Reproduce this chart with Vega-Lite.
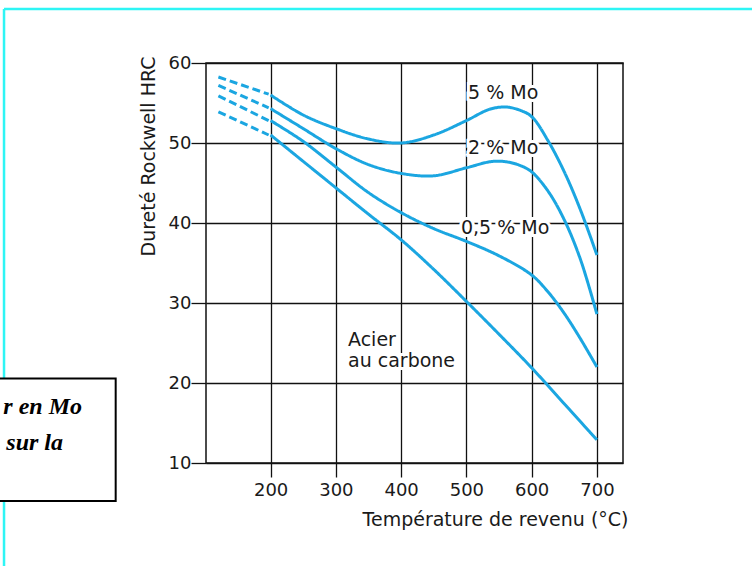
{
  "$schema": "https://vega.github.io/schema/vega-lite/v6.json",
  "autosize": {"type": "none"},
  "padding": {"left": 206, "top": 63, "right": 129, "bottom": 103},
  "width": 417,
  "height": 400,
  "background": "white",
  "view": {"stroke": "#111", "strokeWidth": 1.5},
  "config": {
    "axis": {
      "grid": true, "gridColor": "#111", "gridWidth": 1.3, "gridOpacity": 1,
      "tickColor": "#111", "tickWidth": 1.3, "domain": false,
      "labelFont": "DejaVu Sans", "labelFontSize": 18, "labelColor": "#1a1a1a",
      "titleFont": "DejaVu Sans", "titleFontSize": 19, "titleFontWeight": "normal", "titleColor": "#1a1a1a"
    }
  },
  "datasets": {
    "curves": [
      {"curve": "5", "part": "dashed", "T": 120, "HRC": 58.25},
      {"curve": "5", "part": "dashed", "T": 197, "HRC": 56.1},
      {"curve": "2", "part": "dashed", "T": 120, "HRC": 57.2},
      {"curve": "2", "part": "dashed", "T": 197, "HRC": 54.4},
      {"curve": "0.5", "part": "dashed", "T": 120, "HRC": 55.9},
      {"curve": "0.5", "part": "dashed", "T": 197, "HRC": 52.8},
      {"curve": "C", "part": "dashed", "T": 120, "HRC": 53.9},
      {"curve": "C", "part": "dashed", "T": 197, "HRC": 51.0},

      {"curve": "5", "part": "solid", "T": 200, "HRC": 56.0},
      {"curve": "5", "part": "solid", "T": 250, "HRC": 53.5},
      {"curve": "5", "part": "solid", "T": 300, "HRC": 51.8},
      {"curve": "5", "part": "solid", "T": 350, "HRC": 50.5},
      {"curve": "5", "part": "solid", "T": 400, "HRC": 50.0},
      {"curve": "5", "part": "solid", "T": 450, "HRC": 51.0},
      {"curve": "5", "part": "solid", "T": 500, "HRC": 52.8},
      {"curve": "5", "part": "solid", "T": 535, "HRC": 54.2},
      {"curve": "5", "part": "solid", "T": 560, "HRC": 54.5},
      {"curve": "5", "part": "solid", "T": 582, "HRC": 54.1},
      {"curve": "5", "part": "solid", "T": 600, "HRC": 53.3},
      {"curve": "5", "part": "solid", "T": 625, "HRC": 50.3},
      {"curve": "5", "part": "solid", "T": 650, "HRC": 46.4},
      {"curve": "5", "part": "solid", "T": 675, "HRC": 41.6},
      {"curve": "5", "part": "solid", "T": 700, "HRC": 36.0},

      {"curve": "2", "part": "solid", "T": 200, "HRC": 54.3},
      {"curve": "2", "part": "solid", "T": 250, "HRC": 51.8},
      {"curve": "2", "part": "solid", "T": 300, "HRC": 49.3},
      {"curve": "2", "part": "solid", "T": 350, "HRC": 47.3},
      {"curve": "2", "part": "solid", "T": 400, "HRC": 46.2},
      {"curve": "2", "part": "solid", "T": 450, "HRC": 45.9},
      {"curve": "2", "part": "solid", "T": 500, "HRC": 46.9},
      {"curve": "2", "part": "solid", "T": 540, "HRC": 47.7},
      {"curve": "2", "part": "solid", "T": 565, "HRC": 47.6},
      {"curve": "2", "part": "solid", "T": 585, "HRC": 47.1},
      {"curve": "2", "part": "solid", "T": 600, "HRC": 46.4},
      {"curve": "2", "part": "solid", "T": 625, "HRC": 44.0},
      {"curve": "2", "part": "solid", "T": 650, "HRC": 40.4},
      {"curve": "2", "part": "solid", "T": 675, "HRC": 35.4},
      {"curve": "2", "part": "solid", "T": 700, "HRC": 28.6},

      {"curve": "0.5", "part": "solid", "T": 200, "HRC": 52.8},
      {"curve": "0.5", "part": "solid", "T": 250, "HRC": 50.2},
      {"curve": "0.5", "part": "solid", "T": 300, "HRC": 47.0},
      {"curve": "0.5", "part": "solid", "T": 350, "HRC": 43.8},
      {"curve": "0.5", "part": "solid", "T": 400, "HRC": 41.3},
      {"curve": "0.5", "part": "solid", "T": 450, "HRC": 39.3},
      {"curve": "0.5", "part": "solid", "T": 500, "HRC": 37.7},
      {"curve": "0.5", "part": "solid", "T": 550, "HRC": 35.9},
      {"curve": "0.5", "part": "solid", "T": 600, "HRC": 33.5},
      {"curve": "0.5", "part": "solid", "T": 625, "HRC": 31.4},
      {"curve": "0.5", "part": "solid", "T": 650, "HRC": 28.7},
      {"curve": "0.5", "part": "solid", "T": 675, "HRC": 25.5},
      {"curve": "0.5", "part": "solid", "T": 700, "HRC": 22.0},

      {"curve": "C", "part": "solid", "T": 200, "HRC": 51.0},
      {"curve": "C", "part": "solid", "T": 250, "HRC": 47.7},
      {"curve": "C", "part": "solid", "T": 300, "HRC": 44.4},
      {"curve": "C", "part": "solid", "T": 350, "HRC": 41.1},
      {"curve": "C", "part": "solid", "T": 400, "HRC": 37.9},
      {"curve": "C", "part": "solid", "T": 450, "HRC": 34.2},
      {"curve": "C", "part": "solid", "T": 500, "HRC": 30.2},
      {"curve": "C", "part": "solid", "T": 550, "HRC": 26.1},
      {"curve": "C", "part": "solid", "T": 600, "HRC": 21.9},
      {"curve": "C", "part": "solid", "T": 650, "HRC": 17.4},
      {"curve": "C", "part": "solid", "T": 700, "HRC": 12.9}
    ],
    "labels": [
      {"text": "5 % Mo", "T": 502.5, "HRC": 55.55},
      {"text": "2 % Mo", "T": 502.5, "HRC": 48.67},
      {"text": "0,5 % Mo", "T": 491.7, "HRC": 38.67},
      {"text": "Acier", "T": 318.6, "HRC": 24.59},
      {"text": "au carbone", "T": 318.6, "HRC": 22.0}
    ],
    "frame": [
      {"T": -208.5, "T2": 2000, "HRC": 66.75, "HRC2": 66.75},
      {"T": -208.5, "T2": -208.5, "HRC": 66.75, "HRC2": -100}
    ],
    "box": [
      {"T": -400, "T2": -37.4, "HRC": 20.55, "HRC2": 5.25}
    ],
    "boxtext": [
      {"text": "r en Mo", "T": -89.0, "HRC": 16.09},
      {"text": "sur la", "T": -118.1, "HRC": 11.59}
    ]
  },
  "layer": [
    {
      "data": {"name": "frame"},
      "mark": {"type": "rule", "color": "#2ef5f5", "strokeWidth": 2.5},
      "encoding": {
        "x": {"field": "T", "type": "quantitative", "scale": {"domain": [101, 740], "nice": false, "zero": false}},
        "x2": {"field": "T2"},
        "y": {"field": "HRC", "type": "quantitative", "scale": {"domain": [10, 60], "nice": false, "zero": false}},
        "y2": {"field": "HRC2"}
      }
    },
    {
      "data": {"name": "curves"},
      "mark": {"type": "line", "color": "#1ba6e1", "strokeWidth": 3, "interpolate": "catmull-rom"},
      "encoding": {
        "x": {
          "field": "T", "type": "quantitative",
          "scale": {"domain": [101, 740], "nice": false, "zero": false},
          "axis": {
            "values": [200, 300, 400, 500, 600, 700],
            "tickSize": 14, "labelPadding": 4,
            "title": "Température de revenu (°C)",
            "titleAnchor": "end", "titleAlign": "right", "titleBaseline": "alphabetic",
            "titleX": 422, "titleY": 62
          }
        },
        "y": {
          "field": "HRC", "type": "quantitative",
          "scale": {"domain": [10, 60], "nice": false, "zero": false},
          "axis": {
            "values": [10, 20, 30, 40, 50, 60],
            "tickSize": 15, "labelPadding": 0,
            "title": "Dureté Rockwell HRC",
            "titleAnchor": "end", "titleAlign": "right", "titleBaseline": "alphabetic",
            "titleAngle": -90, "titleX": -52, "titleY": -7
          }
        },
        "detail": [{"field": "curve"}, {"field": "part"}],
        "strokeDash": {
          "field": "part", "type": "nominal",
          "scale": {"domain": ["solid", "dashed"], "range": [[1, 0], [8, 4]]},
          "legend": null
        }
      }
    },
    {
      "data": {"name": "labels"},
      "mark": {"type": "text", "font": "DejaVu Sans", "fontSize": 19, "align": "left", "baseline": "alphabetic", "fill": "white", "stroke": "white", "strokeWidth": 6},
      "encoding": {
        "x": {"field": "T", "type": "quantitative"},
        "y": {"field": "HRC", "type": "quantitative"},
        "text": {"field": "text"}
      }
    },
    {
      "data": {"name": "labels"},
      "mark": {"type": "text", "font": "DejaVu Sans", "fontSize": 19, "align": "left", "baseline": "alphabetic", "color": "#1a1a1a"},
      "encoding": {
        "x": {"field": "T", "type": "quantitative"},
        "y": {"field": "HRC", "type": "quantitative"},
        "text": {"field": "text"}
      }
    },
    {
      "data": {"name": "box"},
      "mark": {"type": "rect", "fill": "white", "stroke": "black", "strokeWidth": 2},
      "encoding": {
        "x": {"field": "T", "type": "quantitative"},
        "x2": {"field": "T2"},
        "y": {"field": "HRC", "type": "quantitative"},
        "y2": {"field": "HRC2"}
      }
    },
    {
      "data": {"name": "boxtext"},
      "mark": {"type": "text", "font": "Liberation Serif", "fontSize": 24, "fontStyle": "italic", "fontWeight": "bold", "align": "right", "baseline": "alphabetic", "color": "black"},
      "encoding": {
        "x": {"field": "T", "type": "quantitative"},
        "y": {"field": "HRC", "type": "quantitative"},
        "text": {"field": "text"}
      }
    }
  ]
}
